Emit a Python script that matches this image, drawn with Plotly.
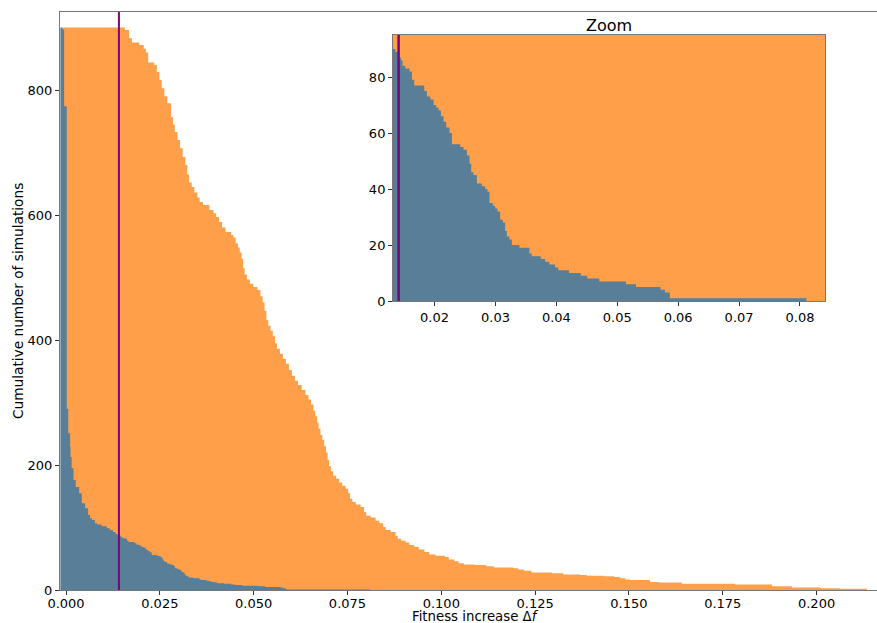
import plotly.graph_objects as go

# ---- data: reverse-cumulative step curves (start of each step, count) ----
orange_df = [-0.0009, 0.0157, 0.0168, 0.0176, 0.0195, 0.0207, 0.0213, 0.0219, 0.0235, 0.0242,
             0.0249, 0.0255, 0.0262, 0.0270, 0.0280, 0.0285, 0.0290, 0.0297, 0.0304, 0.0311,
             0.0318, 0.0323, 0.0328, 0.0335, 0.0342, 0.0350, 0.0356, 0.0365, 0.0382, 0.0393,
             0.0400, 0.0408, 0.0416, 0.0425, 0.0440, 0.0446, 0.0452, 0.0458, 0.0463, 0.0468,
             0.0472, 0.0476, 0.0482, 0.0490, 0.0499, 0.0510, 0.0518, 0.0524, 0.0529, 0.0534,
             0.0539, 0.0545, 0.0551, 0.0557, 0.0562, 0.0570, 0.0578, 0.0586, 0.0594, 0.0602,
             0.0610, 0.0618, 0.0628, 0.0638, 0.0646, 0.0653, 0.0659, 0.0664, 0.0669, 0.0673,
             0.0678, 0.0683, 0.0688, 0.0693, 0.0697, 0.0701, 0.0706, 0.0712, 0.0720, 0.0728,
             0.0736, 0.0745, 0.0752, 0.0757, 0.0763, 0.0772, 0.0785, 0.0794, 0.0800, 0.0812,
             0.0825, 0.0835, 0.0845, 0.0852, 0.0865, 0.0878, 0.0884, 0.0893, 0.0905, 0.0915,
             0.0928, 0.0940, 0.0955, 0.0968, 0.0985, 0.1010, 0.1020, 0.1035, 0.1046, 0.1060,
             0.1090, 0.1120, 0.1140, 0.1192, 0.1205, 0.1220, 0.1240, 0.1295, 0.1325, 0.1370,
             0.1388, 0.1432, 0.1460, 0.1477, 0.1490, 0.1503, 0.1556, 0.1579, 0.1641, 0.1783,
             0.1881, 0.1934, 0.2010, 0.2063, 0.2134]
orange_count = [900, 896, 883, 876, 872, 866, 860, 844, 840, 829,
                816, 803, 790, 779, 757, 745, 733, 720, 707, 693,
                680, 665, 652, 645, 636, 628, 621, 616, 608, 603,
                597, 589, 580, 573, 568, 564, 555, 548, 540, 530,
                515, 505, 497, 490, 485, 480, 470, 460, 447, 432,
                423, 415, 406, 395, 386, 378, 370, 362, 352, 343,
                335, 328, 320, 312, 305, 297, 287, 278, 268, 258,
                248, 240, 230, 220, 208, 198, 190, 183, 178, 172,
                167, 162, 155, 146, 141, 137, 133, 125, 119, 116,
                111, 107, 101, 96, 93, 87, 82, 79, 76, 72,
                69, 65, 61, 57, 55, 53, 49, 46, 43, 41,
                40, 38, 36, 35, 33, 31, 28, 27, 25, 24,
                23, 22, 21, 19, 17, 16, 13, 12, 10, 9,
                6, 4, 3, 2, 0]

blue_df = [-0.0015, -0.0009, -0.0005, 0.0002, 0.0006, 0.0011, 0.0012, 0.0015, 0.0020, 0.0026,
           0.0035, 0.0042, 0.0051, 0.0059, 0.0064, 0.0069, 0.0077, 0.0083, 0.0095, 0.0109,
           0.0117, 0.0125, 0.01318, 0.01356, 0.01410, 0.01449, 0.01475, 0.01520, 0.01590, 0.01629,
           0.01667, 0.01831, 0.01875, 0.01930, 0.01984, 0.02028, 0.02066, 0.02105, 0.02148, 0.02192,
           0.02246, 0.02285, 0.02421, 0.02475, 0.02531, 0.02574, 0.02602, 0.02639, 0.02695, 0.02777,
           0.02831, 0.02869, 0.02902, 0.02957, 0.02995, 0.03033, 0.03077, 0.03121, 0.03159, 0.03187,
           0.03230, 0.03269, 0.03393, 0.03557, 0.03597, 0.03744, 0.03815, 0.03885, 0.03979, 0.04033,
           0.04208, 0.04400, 0.04508, 0.04705, 0.05143, 0.05307, 0.05711, 0.05782, 0.05864, 0.08105]
blue_count = [900, 897, 774, 290, 251, 229, 213, 195, 176, 165,
              155, 139, 131, 120, 115, 112, 107, 105, 102, 99,
              96, 93, 90, 89, 87, 86, 84, 83, 82, 79,
              77, 75, 73, 72, 70, 69, 68, 66, 64, 62,
              60, 56, 55, 54, 52, 49, 46, 45, 42, 41,
              40, 39, 35, 34, 33, 32, 29, 28, 25, 23,
              22, 20, 19, 17, 16, 15, 14, 13, 12, 11,
              10, 9, 8, 7, 6, 5, 4, 3, 1, 0]

threshold = 0.0141

main_xticks = [0.0, 0.025, 0.05, 0.075, 0.1, 0.125, 0.15, 0.175, 0.2]
main_xticklabels = ["0.000", "0.025", "0.050", "0.075", "0.100", "0.125", "0.150", "0.175", "0.200"]
main_yticks = [0, 200, 400, 600, 800]
inset_xticks = [0.02, 0.03, 0.04, 0.05, 0.06, 0.07, 0.08]
inset_xticklabels = ["0.02", "0.03", "0.04", "0.05", "0.06", "0.07", "0.08"]
inset_yticks = [0, 20, 40, 60, 80]

ORANGE = "#ff9f4a"
BLUE = "#587f97"
PURPLE = "#800080"
FONT = "DejaVu Sans"

fig = go.Figure()
for xa, ya in [("x", "y"), ("x2", "y2")]:
    fig.add_trace(go.Scatter(x=orange_df, y=orange_count, mode="lines", line=dict(width=0, shape="hv", color=ORANGE),
                             fill="tozeroy", fillcolor=ORANGE, xaxis=xa, yaxis=ya, showlegend=False, hoverinfo="skip"))
    fig.add_trace(go.Scatter(x=blue_df, y=blue_count, mode="lines", line=dict(width=0, shape="hv", color=BLUE),
                             fill="tozeroy", fillcolor=BLUE, xaxis=xa, yaxis=ya, showlegend=False, hoverinfo="skip"))

fig.add_shape(type="line", xref="x", yref="y domain", x0=threshold, x1=threshold, y0=0, y1=1,
              line=dict(color=PURPLE, width=2))
fig.add_shape(type="line", xref="x2", yref="y2 domain", x0=threshold, x1=threshold, y0=0, y1=1,
              line=dict(color=PURPLE, width=2.5))

tickfont = dict(family=FONT, size=13, color="black")
axcommon = dict(showgrid=False, zeroline=False, ticks="outside", ticklen=4, tickcolor="#333",
                tickfont=tickfont, showline=True, linecolor="#777", linewidth=1, automargin=False)

fig.update_layout(
    width=877, height=623,
    margin=dict(l=60, r=0, t=12, b=33, autoexpand=False),
    plot_bgcolor="white", paper_bgcolor="white",
    font=dict(family=FONT, size=13, color="black"),
    xaxis=dict(domain=[0, 1], range=[-0.0016, 0.2161], tickvals=main_xticks, ticktext=main_xticklabels,
               mirror=True, anchor="y", ticklabelstandoff=-3, **axcommon),
    yaxis=dict(domain=[0, 1], range=[0, 924.8], tickvals=main_yticks, anchor="x", **axcommon),
    xaxis2=dict(domain=[0.4076, 0.9363], range=[0.01318, 0.0841], tickvals=inset_xticks,
                ticktext=inset_xticklabels, mirror=True, anchor="y2", **axcommon),
    yaxis2=dict(domain=[0.5, 0.9602], range=[0, 95], tickvals=inset_yticks, mirror=True, anchor="x2", **axcommon),
    annotations=[
        dict(text="Fitness increase Δ<i>f</i>", xref="paper", yref="paper", x=0.508, y=-0.045,
             xanchor="center", yanchor="middle", showarrow=False, font=dict(family=FONT, size=13.3)),
        dict(text="Cumulative number of simulations", xref="paper", yref="paper", x=-0.0514, y=0.5,
             xanchor="center", yanchor="middle", textangle=-90, showarrow=False, font=dict(family=FONT, size=13.7)),
        dict(text="Zoom", xref="paper", yref="paper", x=(0.4076 + 0.9363) / 2, y=0.9602, yshift=-2,
             xanchor="center", yanchor="bottom", showarrow=False, font=dict(family=FONT, size=16)),
    ],
)

fig.write_html("out.html", config={"displayModeBar": False},
               post_script="document.body.style.margin='0px';")
